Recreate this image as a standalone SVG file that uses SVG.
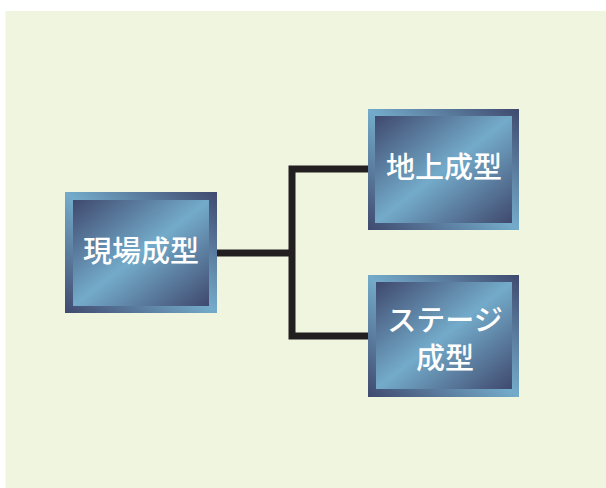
<svg xmlns="http://www.w3.org/2000/svg" width="606" height="488" viewBox="0 0 606 488">
  <defs>
    <linearGradient id="gIn" x1="0" y1="0" x2="1" y2="1">
      <stop offset="0" stop-color="#3f496e"/>
      <stop offset="0.5" stop-color="#74abca"/>
      <stop offset="1" stop-color="#3f496e"/>
    </linearGradient>
    <linearGradient id="gOut" x1="1" y1="0" x2="0" y2="1">
      <stop offset="0" stop-color="#3f496e"/>
      <stop offset="0.5" stop-color="#74abca"/>
      <stop offset="1" stop-color="#3f496e"/>
    </linearGradient>
    <style>
      .outer { fill: url(#gOut); }
      .inner { fill: url(#gIn); }
      .lbl { fill: #ffffff; font-family: "Noto Sans CJK JP", "Noto Sans", sans-serif; font-size: 29px; font-weight: 500; text-anchor: middle; }
      .conn { fill: none; stroke: #231f20; stroke-width: 7; stroke-linejoin: miter; }
    </style>
  </defs>
  <rect x="0" y="0" width="606" height="488" fill="#ffffff"/>
  <rect x="5.5" y="11" width="601" height="477" fill="#eff5df"/>
  <g id="connectors">
    <path class="conn" d="M217,253 H292"/>
    <path class="conn" d="M368,169 H292 V336 H368"/>
  </g>
  <g id="node-genba">
    <rect class="outer" x="65" y="192" width="152" height="121"/>
    <rect class="inner" x="73" y="200" width="136" height="106"/>
    <text class="lbl" x="141" y="262">現場成型</text>
  </g>
  <g id="node-chijo">
    <rect class="outer" x="368" y="109" width="151" height="121"/>
    <rect class="inner" x="375" y="116" width="137" height="107"/>
    <text class="lbl" x="444" y="178">地上成型</text>
  </g>
  <g id="node-stage">
    <rect class="outer" x="368" y="275" width="151" height="122"/>
    <rect class="inner" x="376" y="282" width="136" height="107"/>
    <text class="lbl" x="445" y="331">ステージ</text>
    <text class="lbl" x="445" y="369">成型</text>
  </g>
</svg>
